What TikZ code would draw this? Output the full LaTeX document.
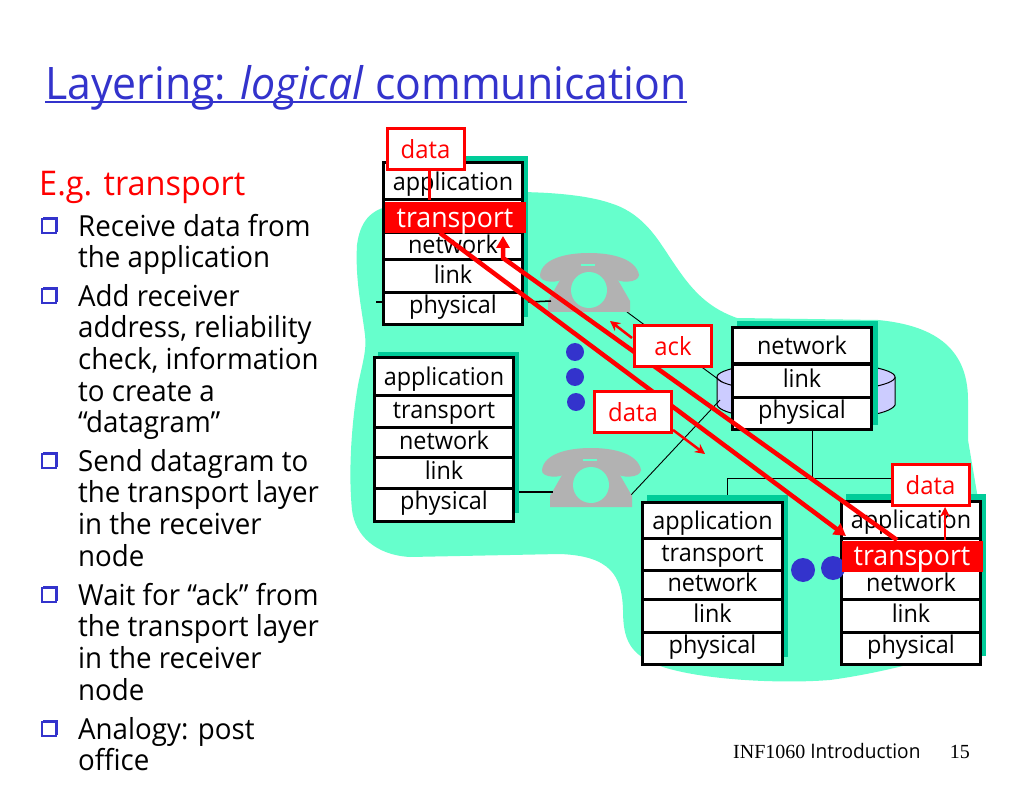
\documentclass[tikz,border=0pt]{standalone}
\usepackage{fontspec}
\setmainfont[FakeStretch=0.955]{Open Sans}
\newfontfamily\footerfont{Liberation Serif}
\usetikzlibrary{arrows, arrows.meta, positioning, shadows}

\definecolor{cloudgreen}{HTML}{66FFCC}
\definecolor{shadowgreen}{HTML}{00CC99}
\definecolor{slideblue}{HTML}{3333CC}
\definecolor{linkred}{HTML}{FF0000}
\definecolor{phonegray}{HTML}{B2B2B2}
\definecolor{disklilac}{HTML}{CCCCFF}

\tikzset{
    layer/.style={draw=black, line width=3pt, fill=white, inner sep=0pt, minimum width=139.5pt,
        text height=18pt, text depth=4pt, font=\fontsize{24.5}{24.5}\selectfont},
    toplayer/.style={layer, text height=20pt, text depth=2pt},
    botlayer/.style={layer, text height=16pt, text depth=6pt},
    active/.style={draw=none, fill=linkred, text=white, minimum width=141pt, minimum height=31pt,
        inner sep=0pt, text height=22pt, text depth=3pt, font=\fontsize{28}{28}\selectfont},
    stackshadow/.style={fill=shadowgreen, draw=none},
    msgbox/.style={draw=linkred, line width=3pt, fill=white, text=linkred, inner sep=0pt,
        minimum width=77pt, minimum height=41pt, font=\fontsize{25}{25}\selectfont},
    bullettext/.style={anchor=north west, inner sep=0pt, align=left,
        font=\fontsize{29}{31.6}\selectfont},
    bulletbox/.style={draw=slideblue, line width=1.3pt, fill=white, inner sep=0pt,
        minimum size=14pt, copy shadow={draw=slideblue, shadow xshift=1.2pt, shadow yshift=1.2pt}},
    dot/.style={circle, fill=slideblue, inner sep=0pt},
    wire/.style={draw=black, line width=0.9pt},
    redline/.style={draw=linkred, line width=4.5pt, -{Triangle[length=12pt,width=13pt]}},
    redthin/.style={draw=linkred, line width=2.5pt, -{Stealth[length=10pt,width=10pt]}}
}

\begin{document}
\begin{tikzpicture}[x=1pt,y=-1pt, node distance=-3pt]
    \useasboundingbox (0,0) rectangle (1023,786);
    \fill[white] (0,0) rectangle (1023,786);

    % cloud
    \fill[cloudgreen] (357,245) .. controls (360,222) and (370,210) .. (390,206)
        .. controls (440,190) and (560,186) .. (610,203)
        .. controls (640,212) and (655,235) .. (665,250)
        .. controls (685,280) and (700,305) .. (737,318)
        -- (878,320)
        .. controls (930,325) and (968,345) .. (968,400)
        -- (968,440) -- (977,493) -- (982,640)
        .. controls (960,652) and (890,672) .. (830,680)
        .. controls (780,684) and (700,680) .. (660,666)
        .. controls (630,655) and (623,640) .. (623,610)
        .. controls (622,575) and (610,556) .. (560,554)
        -- (410,557)
        .. controls (375,555) and (355,535) .. (352,510)
        .. controls (348,470) and (352,420) .. (358,385)
        .. controls (362,365) and (367,350) .. (365,335)
        .. controls (362,310) and (355,280) .. (357,245);

    % disk
    \path[draw=black, fill=disklilac, line width=1pt] (717,377) -- (717,405)
        .. controls (725,425) and (885,425) .. (895,405) -- (895,377);
    \draw[draw=black, fill=disklilac, line width=1pt] (806,377) ellipse (89 and 15);

    % wires
    \coordinate (topphoneout) at (627,312);
    \coordinate (diskleftup) at (722,382);
    \coordinate (lowphoneout) at (631,495);
    \coordinate (diskleftdown) at (720,400);
    \coordinate (busleft) at (727,478);
    \coordinate (busmid) at (812,478);
    \coordinate (busright) at (892,478);
    \coordinate (busdrop) at (727,496);
    \draw[wire] (topphoneout) -- (diskleftup);
    \draw[wire] (lowphoneout) -- (diskleftdown);
    \draw[wire] (busleft) -- (busright);
    \draw[wire] (busleft) -- (busdrop);

    % shadows
    \fill[stackshadow] (388,156) rectangle (528,317);
    \fill[stackshadow] (378,352) rectangle (519,513);
    \fill[stackshadow] (737,321) rectangle (878,425);
    \fill[stackshadow] (647,495) rectangle (788,657);
    \fill[stackshadow] (846,494) rectangle (986,656);

    % source host
    \node[toplayer, minimum height=37pt] (srcapp) at (453,181.5) {application};
    \node[layer, minimum height=33pt, below=of srcapp] (srctrans) {};
    \node[layer, minimum height=27pt, below=of srctrans] (srcnet) {network};
    \node[layer, minimum height=33pt, below=of srcnet] (srclink) {link};
    \node[botlayer, minimum height=32pt, below=of srclink] (srcphys) {physical};
    \node[active] at (455,218) (srcactive) {transport};

    % lower left host
    \node[toplayer, minimum height=37pt] (lowapp) at (444,376.5) {application};
    \node[layer, minimum height=32pt, below=of lowapp] (lowtrans) {transport};
    \node[layer, minimum height=30pt, below=of lowtrans] (lownet) {network};
    \node[layer, minimum height=31pt, below=of lownet] (lowlink) {link};
    \node[botlayer, minimum height=33pt, below=of lowlink] (lowphys) {physical};

    % router
    \node[toplayer, minimum height=36pt] (routnet) at (802,346) {network};
    \node[layer, minimum height=33pt, below=of routnet] (routlink) {link};
    \node[botlayer, minimum height=32pt, below=of routlink] (routphys) {physical};

    % middle host
    \node[toplayer, minimum height=36pt] (midapp) at (712.5,520) {application};
    \node[layer, minimum height=32pt, below=of midapp] (midtrans) {transport};
    \node[layer, minimum height=29pt, below=of midtrans] (midnet) {network};
    \node[layer, minimum height=33pt, below=of midnet] (midlink) {link};
    \node[botlayer, minimum height=32pt, below=of midlink] (midphys) {physical};

    % receiver host
    \node[toplayer, minimum height=37pt] (dstapp) at (911,519.5) {application};
    \node[layer, minimum height=32pt, below=of dstapp] (dsttrans) {};
    \node[layer, minimum height=29pt, below=of dsttrans] (dstnet) {network};
    \node[layer, minimum height=33pt, below=of dstnet] (dstlink) {link};
    \node[botlayer, minimum height=32pt, below=of dstlink] (dstphys) {physical};

    \draw[wire] (busmid |- routphys.south) -- (busmid);

    % dots
    \node[dot, minimum size=18pt] (dota) at (575,352) {};
    \node[dot, minimum size=18pt] (dotb) at (575,377) {};
    \node[dot, minimum size=18pt] (dotc) at (576,402) {};
    \node[dot, minimum size=24pt] (dotd) at (803,570) {};
    \node[dot, minimum size=24pt] (dote) at (833,568) {};
    \node[active] at (912,556) (dstactive) {transport};

    % telephones
    \foreach \px/\py in {540/253, 542/448} {
        \begin{scope}[shift={(\px,\py)}]
            \fill[phonegray] (0,22) .. controls (2,6) and (25,0) .. (49,0)
                .. controls (73,0) and (96,6) .. (99,22)
                .. controls (99,30) and (78,31) .. (73,24)
                -- (72,17) -- (26,17) -- (25,24)
                .. controls (20,31) and (-1,30) .. (0,22) -- cycle;
            \fill[phonegray] (27,15) -- (71,15) -- (90,48) -- (90,59) -- (8,59) -- (8,48) -- cycle;
            \fill[cloudgreen] (49,37) circle (18);
            \fill[cloudgreen] (41,11) rectangle (55,13);
        \end{scope}
    }

    % links to the telephones
    \coordinate (srctick) at (376,302);
    \coordinate (srcwire) at (528,302);
    \coordinate (phonetopin) at (551,301);
    \coordinate (lowwire) at (519,492);
    \coordinate (phonelowin) at (553,492);
    \draw[wire, line width=1.5pt] (srcwire) -- (phonetopin);
    \draw[wire, line width=1.5pt] (srctick) -- (srcphys.west |- srctick);
    \draw[wire, line width=1.5pt] (lowwire) -- (phonelowin);

    % message paths
    \coordinate (sendstart) at (440,233);
    \coordinate (sendend) at (846,536);
    \coordinate (ackstart) at (897,540);
    \coordinate (ackbend) at (503,258);
    \coordinate (ackend) at (503,236);
    \draw[redline] (sendstart) -- (sendend);
    \draw[redline] (ackstart) -- (ackbend) -- (ackend);

    % message boxes
    \node[msgbox] (datasrc) at (425.5,149.5) {data\hspace{4pt}};
    \node[msgbox] (ackbox) at (673,346) {ack\hspace{14pt}};
    \node[msgbox] (datamid) at (633,412) {data\hspace{4pt}};
    \node[msgbox] (datadst) at (930.5,485) {data\hspace{3pt}};

    \coordinate (datasrcfoot) at (429,200);
    \coordinate (datadstfoot) at (945,540);
    \coordinate (ackfrom) at (632,338);
    \coordinate (ackto) at (610,321);
    \coordinate (datafrom) at (673,430);
    \coordinate (datato) at (705,454);
    \coordinate (markbottom) at (920,572);
    \coordinate (marktop) at (920,552);
    \draw[draw=linkred, line width=3pt] (datasrc.south -| datasrcfoot) -- (datasrcfoot);
    \draw[redthin] (datadstfoot) -- (datadst.south -| datadstfoot);
    \draw[redthin] (ackfrom) -- (ackto);
    \draw[redthin] (datafrom) -- (datato);
    \draw[white, line width=1.5pt] (markbottom) -- (marktop);

    % title and text
    \node[anchor=base west, inner sep=0pt, text=slideblue, font=\fontsize{44.8}{44.8}\selectfont] (title)
        at (45,100) {Layering: \textit{logical} communication};
    \draw[slideblue, line width=2pt] ([yshift=-2.5pt]title.base west) -- ([yshift=-2.5pt]title.base east);
    \node[anchor=base west, inner sep=0pt, text=linkred, font=\fontsize{34}{34}\selectfont] (eg)
        at (39,196) {E.g. transport};

    \node[bullettext] (itema) at (78,214) {Receive data from\\the application};
    \node[bullettext] (itemb) at (78,284) {Add receiver\\address, reliability\\check, information\\to create a\\“datagram”};
    \node[bullettext] (itemc) at (78,449) {Send datagram to\\the transport layer\\in the receiver\\node};
    \node[bullettext] (itemd) at (78,583) {Wait for “ack” from\\the transport layer\\in the receiver\\node};
    \node[bullettext] (iteme) at (78,717) {Analogy: post\\office};

    \node[bulletbox] (boxa) at (49,226) {};
    \node[bulletbox] (boxb) at (49,296) {};
    \node[bulletbox] (boxc) at (49,461) {};
    \node[bulletbox] (boxd) at (49,595) {};
    \node[bulletbox] (boxe) at (49,729) {};

    % footer
    \node[anchor=base west, inner sep=0pt, font=\fontsize{20}{20}\selectfont] (footer)
        at (733,758) {{\footerfont INF1060} Introduction};
    \node[anchor=base east, inner sep=0pt, font=\fontsize{20}{20}\footerfont] (pagenum)
        at (970,758) {15};
\end{tikzpicture}
\end{document}
